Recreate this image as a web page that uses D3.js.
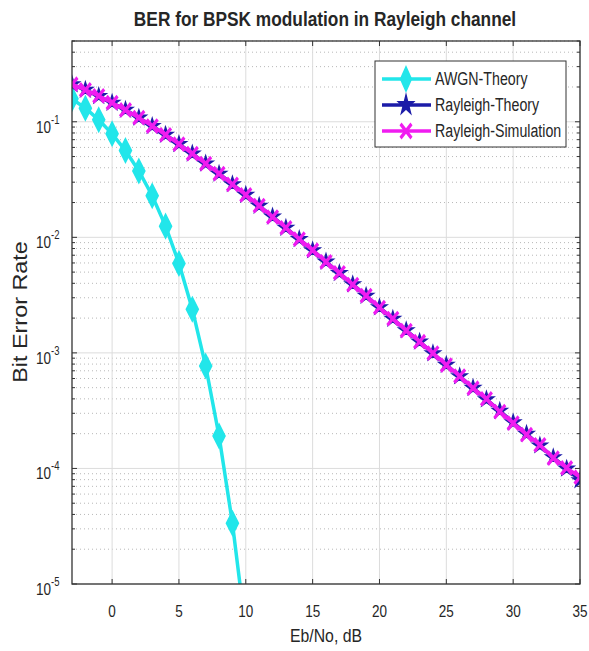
<!DOCTYPE html>
<html lang="en">
<head>
<meta charset="UTF-8">
<title>BER for BPSK modulation in Rayleigh channel</title>
<script src="https://cdn.jsdelivr.net/npm/d3@7"></script>
<style>
  body { margin: 0; background: #fff; }
  text { font-family: "Liberation Sans", Arial, sans-serif; fill: #262626; }
</style>
</head>
<body>
<script>
// Eb/No in dB
var ebNo = [-3, -2, -1, 0, 1, 2, 3, 4, 5, 6, 7, 8, 9, 10, 11, 12, 13, 14, 15, 16, 17, 18, 19,
            20, 21, 22, 23, 24, 25, 26, 27, 28, 29, 30, 31, 32, 33, 34, 35];
var awgnDb = [-3, -2, -1, 0, 1, 2, 3, 4, 5, 6, 7, 8, 9, 10, 11, 12];
var awgnTheory = [0.158, 0.131, 0.104, 0.0786, 0.0563, 0.0375, 0.0229, 0.0125, 0.00595, 0.00239,
                  7.7e-4, 1.91e-4, 3.36e-5, 3.9e-6, 2.6e-7, 9e-9];
var rayTheory = [0.211, 0.189, 0.167, 0.146, 0.127, 0.1085, 0.0919, 0.0771, 0.0642, 0.053, 0.0435,
                 0.0355, 0.0288, 0.0233, 0.01875, 0.0151, 0.0121, 0.00967, 0.00772, 0.00616, 0.00491,
                 0.00392, 0.00312, 0.00248, 0.00197, 0.00157, 0.00125, 9.92e-4, 7.89e-4, 6.27e-4,
                 4.98e-4, 3.96e-4, 3.15e-4, 2.5e-4, 1.99e-4, 1.58e-4, 1.25e-4, 9.95e-5, 7.9e-5];
var raySim = [0.2115, 0.1887, 0.1675, 0.1462, 0.1266, 0.1086, 0.0918, 0.0772, 0.0641, 0.0531, 0.0434,
              0.0356, 0.0287, 0.0233, 0.0188, 0.0150, 0.0121, 0.00965, 0.00774, 0.00614, 0.00493,
              0.0039, 0.00313, 0.00247, 0.00198, 0.00156, 0.00125, 9.95e-4, 7.85e-4, 6.3e-4,
              4.95e-4, 4.0e-4, 3.1e-4, 2.47e-4, 1.96e-4, 1.6e-4, 1.23e-4, 1.01e-4, 8.4e-5];
var xTicks = [0, 5, 10, 15, 20, 25, 30, 35];
var yTicks = [1e-5, 1e-4, 1e-3, 1e-2, 1e-1];
var yExp = ["-5", "-4", "-3", "-2", "-1"];
var legendNames = ["AWGN-Theory", "Rayleigh-Theory", "Rayleigh-Simulation"];

var width = 589, height = 651;
var pLeft = 72, pRight = 580, pTop = 41, pBottom = 584;
var sy = 1.25; // the picture is stretched vertically

var x = d3.scaleLinear().domain([-3, 35]).range([pLeft, pRight]);
var y = d3.scaleLog().domain([1e-5, 0.5]).range([pBottom, pTop]);

var svg = d3.select("body").append("svg").attr("width", width).attr("height", height);

function label(px, py, str, size, anchor, weight, stretch) {
    return svg.append("text")
        .attr("transform", "translate(" + px + "," + py + ") scale(1," + (stretch || sy) + ")")
        .attr("text-anchor", anchor || "middle")
        .style("font-size", size + "px")
        .style("font-weight", weight || "normal")
        .text(str);
}

// minor values for y grid
var minor = [];
yTicks.forEach(function (d) {
    for (var k = 2; k <= 9; k++) if (d * k <= 0.5) minor.push(d * k);
});

var grid = svg.append("g");
grid.selectAll(".ym").data(minor).enter().append("line")
    .attr("x1", pLeft).attr("x2", pRight)
    .attr("y1", function (d) { return y(d); }).attr("y2", function (d) { return y(d); })
    .attr("stroke", "#b8b8b8").attr("stroke-width", 1).attr("stroke-dasharray", "1,3");
grid.selectAll(".yM").data(yTicks).enter().append("line")
    .attr("x1", pLeft).attr("x2", pRight)
    .attr("y1", function (d) { return y(d); }).attr("y2", function (d) { return y(d); })
    .attr("stroke", "#dcdcdc").attr("stroke-width", 1);
grid.selectAll(".xM").data(xTicks).enter().append("line")
    .attr("y1", pTop).attr("y2", pBottom)
    .attr("x1", function (d) { return x(d); }).attr("x2", function (d) { return x(d); })
    .attr("stroke", "#dcdcdc").attr("stroke-width", 1);

// ticks
var ticks = svg.append("g").attr("stroke", "#333").attr("stroke-width", 1);
xTicks.forEach(function (d) {
    ticks.append("line").attr("x1", x(d)).attr("x2", x(d)).attr("y1", pBottom).attr("y2", pBottom - 5);
    ticks.append("line").attr("x1", x(d)).attr("x2", x(d)).attr("y1", pTop).attr("y2", pTop + 5);
});
yTicks.forEach(function (d) {
    ticks.append("line").attr("x1", pLeft).attr("x2", pLeft + 5).attr("y1", y(d)).attr("y2", y(d));
    ticks.append("line").attr("x1", pRight).attr("x2", pRight - 5).attr("y1", y(d)).attr("y2", y(d));
});
minor.forEach(function (d) {
    ticks.append("line").attr("x1", pLeft).attr("x2", pLeft + 3).attr("y1", y(d)).attr("y2", y(d));
    ticks.append("line").attr("x1", pRight).attr("x2", pRight - 3).attr("y1", y(d)).attr("y2", y(d));
});

// data
svg.append("clipPath").attr("id", "clip").append("rect")
    .attr("x", pLeft).attr("y", pTop).attr("width", pRight - pLeft).attr("height", pBottom - pTop);
var plot = svg.append("g").attr("clip-path", "url(#clip)");

var line = d3.line().x(function (d) { return x(d[0]); }).y(function (d) { return y(d[1]); });

var awgn = d3.zip(awgnDb, awgnTheory);
var rt = d3.zip(ebNo, rayTheory);
var rs = d3.zip(ebNo, raySim);

var diamond = d3.symbol().type(d3.symbolDiamond).size(100);
var star = d3.symbol().type(d3.symbolStar).size(65);
var cross = d3.symbol().type(d3.symbolX).size(80);

var cyan = "#22e6ea", blue = "#1c1ca8", mag = "#f01cf0";

plot.append("path").datum(awgn).attr("d", line).attr("fill", "none")
    .attr("stroke", cyan).attr("stroke-width", 3.5);
plot.selectAll(".aw").data(awgn).enter().append("path")
    .attr("d", diamond)
    .attr("transform", function (d) { return "translate(" + x(d[0]) + "," + y(d[1]) + ") scale(1.1,1.25)"; })
    .attr("fill", cyan).attr("stroke", cyan).attr("stroke-width", 1.5);

plot.append("path").datum(rt).attr("d", line).attr("fill", "none")
    .attr("stroke", blue).attr("stroke-width", 3.5);
plot.selectAll(".rt").data(rt).enter().append("path")
    .attr("d", star)
    .attr("transform", function (d) { return "translate(" + x(d[0]) + "," + y(d[1]) + ")"; })
    .attr("fill", blue).attr("stroke", blue).attr("stroke-width", 1.5);

plot.append("path").datum(rs).attr("d", line).attr("fill", "none")
    .attr("stroke", mag).attr("stroke-width", 3.5);
plot.selectAll(".rs").data(rs).enter().append("path")
    .attr("d", cross)
    .attr("transform", function (d) { return "translate(" + x(d[0]) + "," + y(d[1]) + ") scale(1,1.2)"; })
    .attr("fill", "none").attr("stroke", mag).attr("stroke-width", 3);

// box
svg.append("rect").attr("x", pLeft).attr("y", pTop).attr("width", pRight - pLeft).attr("height", pBottom - pTop)
    .attr("fill", "none").attr("stroke", "#333").attr("stroke-width", 1.3);

// tick labels
xTicks.forEach(function (d) { label(x(d), 617, d, 13.5, "middle"); });
yTicks.forEach(function (d, i) {
    label(51, y(d) + 11, "10", 13.5, "end");
    label(51, y(d) + 2, yExp[i], 9.5, "start");
});

// title and axis labels
label(325, 26, "BER for BPSK modulation in Rayleigh channel", 17.3, "middle", "bold", 1.2);
label(326, 642, "Eb/No, dB", 15.8, "middle", "normal", 1.2);
svg.append("text")
    .attr("transform", "translate(27,312) scale(1,1.2) rotate(-90)")
    .attr("text-anchor", "middle").style("font-size", "19.5px").text("Bit Error Rate");

// legend
var lg = svg.append("g");
lg.append("rect").attr("x", 375).attr("y", 61).attr("width", 191).attr("height", 86)
    .attr("fill", "#fff").attr("stroke", "#333").attr("stroke-width", 1);
var lgColors = [cyan, blue, mag];
var lgSym = [diamond, star, cross];
legendNames.forEach(function (n, i) {
    var ly = 79 + i * 26;
    lg.append("line").attr("x1", 382).attr("x2", 431).attr("y1", ly).attr("y2", ly)
        .attr("stroke", lgColors[i]).attr("stroke-width", 3.5);
    lg.append("path").attr("d", lgSym[i])
        .attr("transform", "translate(406," + ly + ") scale(1,1.3)")
        .attr("fill", i == 2 ? "none" : lgColors[i]).attr("stroke", lgColors[i]).attr("stroke-width", i == 2 ? 3 : 1.5);
    label(435, ly + 6, n, 14.2, "start");
});
</script>
</body>
</html>
